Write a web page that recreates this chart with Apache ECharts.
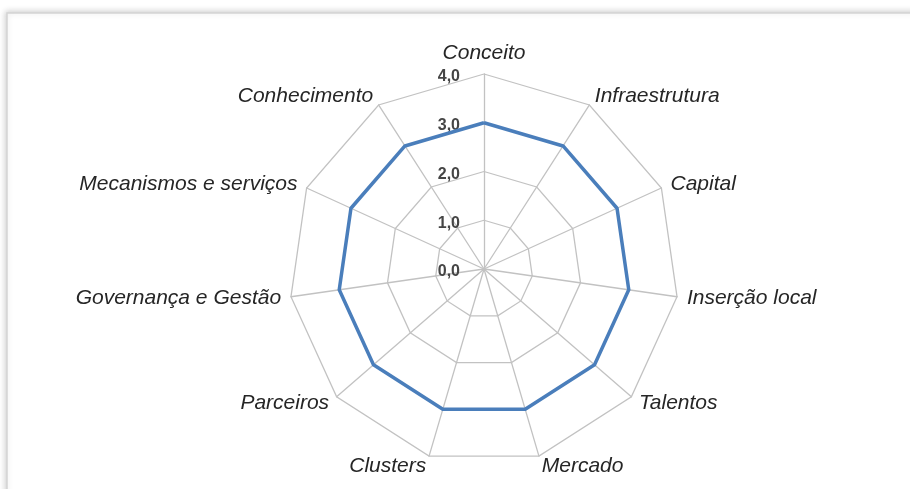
<!DOCTYPE html>
<html>
<head>
<meta charset="utf-8">
<script src="https://cdn.jsdelivr.net/npm/echarts@6/dist/echarts.min.js"></script>
<style>
html,body{margin:0;padding:0;background:#fff;}
#c{width:910px;height:489px;}
</style>
</head>
<body>
<div id="c"></div>
<script>
// Categories in clockwise order starting at the top
const categories = ['Conceito','Infraestrutura','Capital','Inserção local','Talentos','Mercado','Clusters','Parceiros','Governança e Gestão','Mecanismos e serviços','Conhecimento'];
const values = [3.0,3.0,3.0,3.0,3.0,3.0,3.0,3.0,3.0,3.0,3.0];
const tickLabels = ['0,0','1,0','2,0','3,0','4,0'];
const axisMax = 4;

// ECharts radar runs counter-clockwise, so reverse everything after the first entry
const ccwCats = [categories[0]].concat(categories.slice(1).reverse());
const ccwVals = [values[0]].concat(values.slice(1).reverse());

const indicator = ccwCats.map((name, i) => {
  const ind = { name: name, min: 0, max: axisMax };
  if (i === 0) {
    ind.axisLabel = {
      show: true,
      color: '#454545',
      fontSize: 16,
      fontWeight: 'bold',
      fontFamily: 'Liberation Sans, Arial, sans-serif',
      margin: 24,
      verticalAlign: 'top',
      lineHeight: 6,
      formatter: (v) => tickLabels[Math.round(v)]
    };
  }
  return ind;
});

const chart = echarts.init(document.getElementById('c'), null, {renderer: 'canvas'});
chart.setOption({
  animation: false,
  backgroundColor: '#ffffff',
  graphic: [{
    type: 'rect',
    shape: { x: 7, y: 13, width: 1100, height: 1000 },
    style: { fill: '#ffffff', stroke: '#d4d4d4', lineWidth: 1.5, shadowBlur: 6, shadowColor: 'rgba(0,0,0,0.18)', shadowOffsetX: -1, shadowOffsetY: -1 },
    z: -10, silent: true
  }],
  radar: {
    center: [484, 269],
    radius: 195,
    shape: 'polygon',
    splitNumber: 4,
    nameGap: 10,
    indicator: indicator,
    axisName: {
      color: '#262626',
      fontStyle: 'italic',
      fontSize: 21,
      fontFamily: 'Liberation Sans, Arial, sans-serif'
    },
    axisLine: { lineStyle: { color: '#c2c2c2', width: 1.3 } },
    splitLine: { lineStyle: { color: '#c2c2c2', width: 1.3 } },
    splitArea: { show: false },
    axisTick: { show: false },
    axisLabel: { show: false }
  },
  series: [{
    type: 'radar',
    symbol: 'none',
    lineStyle: { color: '#4A7EBB', width: 3.5 },
    data: [{ value: ccwVals }]
  }]
});
</script>
</body>
</html>
